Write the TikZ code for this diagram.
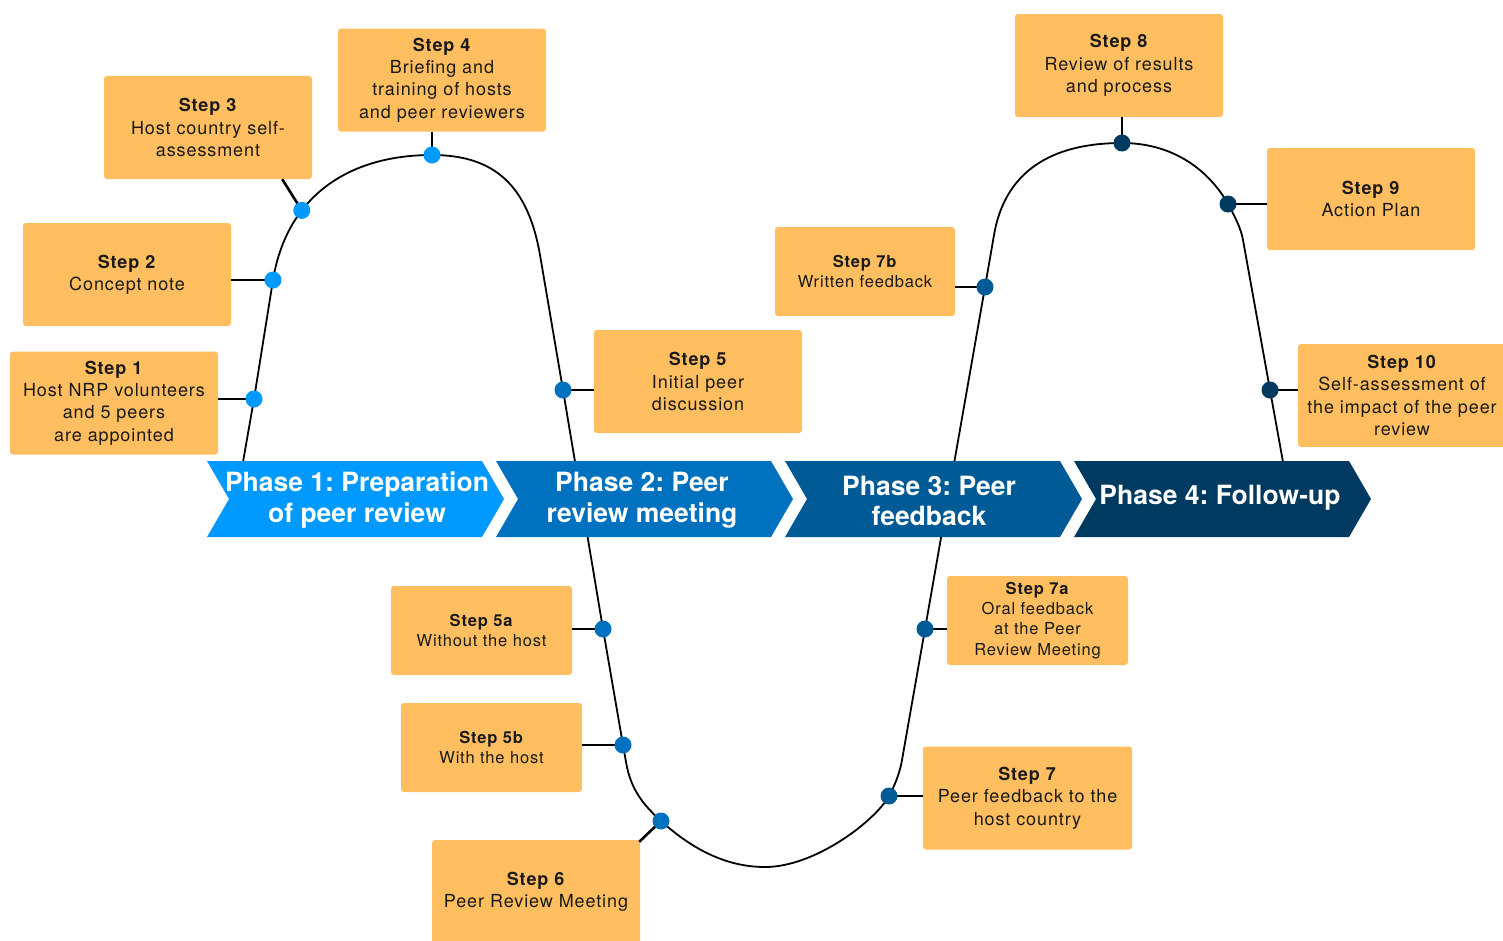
\documentclass[tikz,border=0pt]{standalone}
\usepackage{fontspec}
\setmainfont{TeX Gyre Heros}
\newfontfamily\boxfont[LetterSpace=5]{TeX Gyre Heros}
\usepackage{xcolor}
\usepackage{tikz}
\usetikzlibrary{arrows.meta}
\frenchspacing

\definecolor{boxfill}{HTML}{FFBE5F}
\definecolor{boxtext}{HTML}{1A1A1A}
\definecolor{phaseA}{HTML}{0099FF}
\definecolor{phaseB}{HTML}{0071BF}
\definecolor{phaseC}{HTML}{005A96}
\definecolor{phaseD}{HTML}{003A60}

\tikzset{
    stepbox/.style={fill=boxfill, rounded corners=3pt, inner sep=0pt,
        minimum width=208pt, minimum height=103pt, align=center, text=boxtext,
        font=\boxfont\fontsize{18}{22.4}\selectfont},
    smallbox/.style={stepbox, minimum width=181pt, minimum height=89pt,
        font=\boxfont\fontsize{16.5}{20.3}\selectfont},
    dot/.style={circle, inner sep=0pt, minimum size=17pt},
    link/.style={line width=2.6pt},
    phase/.style={text=white, align=center, font=\bfseries\fontsize{26.5}{30.5}\selectfont}
}

\begin{document}
\begin{tikzpicture}[x=1pt, y=-1pt]
        \useasboundingbox (0,0) rectangle (1503,940);

        % Wave through the steps.
        \draw[line width=1.8pt]
            (243,462) -- (254,399) coordinate (c1) -- (273,280) coordinate (c2)
            .. controls (287,195) and (350,155) .. coordinate[pos=0.33] (c3) (432,155) coordinate (c4)
            .. controls (495,155) and (528,186) .. (540,255)
            -- (563,390) coordinate (c5) -- (603,629) coordinate (c5a) -- (623,745) coordinate (c5b)
            -- (626,762) .. controls (631,792) and (646,807) .. (661,821) coordinate (c6)
            .. controls (691,848) and (725,867) .. (765,867)
            .. controls (815,867) and (875,821) .. (889,796) coordinate (c7)
            .. controls (895,785) and (900,772) .. (902,760)
            -- (925,629) coordinate (c7a) -- (985,287) coordinate (c7b) -- (994,235)
            .. controls (1006,165) and (1060,143) .. (1122,143) coordinate (c8)
            .. controls (1175,143) and (1210,172) .. (1228,204) coordinate (c9)
            .. controls (1234,215) and (1241,228) .. (1243,240)
            -- (1270,390) coordinate (c10) -- (1283,462);

        % Phase arrows.
        \foreach \i/\col in {0/phaseA, 1/phaseB, 2/phaseC, 3/phaseD}
            \fill[\col] ({207+289*\i},461) -- ({482+289*\i},461) -- ({504+289*\i},499)
                -- ({482+289*\i},537) -- ({207+289*\i},537) -- ({229+289*\i},499) -- cycle;
        \draw (357,500) node[phase, anchor=center] (p1) {Phase 1: Preparation\\of peer review};
        \draw (642,500) node[phase, anchor=center] (p2) {Phase 2: Peer\\review meeting};
        \draw (929,501) node[phase, anchor=center] (p3) {Phase 3: Peer\\feedback};
        \draw (1220,498) node[phase, anchor=center] (p4) {Phase 4: Follow-up};

        % Phase 1 steps.
        \draw (114,403) node[stepbox, anchor=center] (s1) {\textbf{Step 1}\\Host NRP volunteers\\and 5 peers\\are appointed};
        \draw (127,274.5) node[stepbox, anchor=center] (s2) {\textbf{Step 2}\\Concept note};
        \draw (208,127.5) node[stepbox, anchor=center] (s3) {\textbf{Step 3}\\Host country self-\\assessment};
        \draw (442,80) node[stepbox, anchor=center] (s4) {\textbf{Step 4}\\Briefing and\\training of hosts\\and peer reviewers};
        \draw[link] (s1.east |- c1) -- (c1);
        \draw[link] (s2.east |- c2) -- (c2);
        \draw[link] ([xshift=-30pt]s3.south east) -- (c3);
        \draw[link] (s4.south -| c4) -- (c4);
        \draw (c1) node[dot, fill=phaseA] (d1) {};
        \draw (c2) node[dot, fill=phaseA] (d2) {};
        \draw (c3) node[dot, fill=phaseA] (d3) {};
        \draw (c4) node[dot, fill=phaseA] (d4) {};

        % Phase 2 steps.
        \draw (698,381.5) node[stepbox, anchor=center] (s5) {\textbf{Step 5}\\Initial peer\\discussion};
        \draw (481.5,630.5) node[smallbox, anchor=center] (s5a) {\textbf{Step 5a}\\Without the host};
        \draw (491.5,747.5) node[smallbox, anchor=center] (s5b) {\textbf{Step 5b}\\With the host};
        \draw (536,892) node[stepbox, anchor=center, minimum height=104pt] (s6) {\textbf{Step 6}\\Peer Review Meeting};
        \draw[link] (s5.west |- c5) -- (c5);
        \draw[link] (s5a.east |- c5a) -- (c5a);
        \draw[link] (s5b.east |- c5b) -- (c5b);
        \draw[link] ([xshift=-1pt, yshift=-2pt]s6.north east) -- (c6);
        \draw (c5) node[dot, fill=phaseB] (d5) {};
        \draw (c5a) node[dot, fill=phaseB] (d5a) {};
        \draw (c5b) node[dot, fill=phaseB] (d5b) {};
        \draw (c6) node[dot, fill=phaseB] (d6) {};

        % Phase 3 steps.
        \draw (1027.5,798) node[stepbox, anchor=center, minimum width=209pt] (s7) {\textbf{Step 7}\\Peer feedback to the\\host country};
        \draw (1037.5,620.5) node[smallbox, anchor=center] (s7a) {\textbf{Step 7a}\\Oral feedback\\at the Peer\\Review Meeting};
        \draw (865,271.5) node[smallbox, anchor=center, minimum width=180pt] (s7b) {\textbf{Step 7b}\\Written feedback};
        \draw[link] (s7.west |- c7) -- (c7);
        \draw[link] (s7a.west |- c7a) -- (c7a);
        \draw[link] (s7b.east |- c7b) -- (c7b);
        \draw (c7) node[dot, fill=phaseC] (d7) {};
        \draw (c7a) node[dot, fill=phaseC] (d7a) {};
        \draw (c7b) node[dot, fill=phaseC] (d7b) {};

        % Phase 4 steps.
        \draw (1119,65.5) node[stepbox, anchor=center] (s8) {\textbf{Step 8}\\Review of results\\and process};
        \draw (1371,199) node[stepbox, anchor=center, minimum height=102pt] (s9) {\textbf{Step 9}\\Action Plan};
        \draw (1402,395.5) node[stepbox, anchor=center] (s10) {\textbf{Step 10}\\Self-assessment of\\the impact of the peer\\review};
        \draw[link] (s8.south -| c8) -- (c8);
        \draw[link] (s9.west |- c9) -- (c9);
        \draw[link] (s10.west |- c10) -- (c10);
        \draw (c8) node[dot, fill=phaseD] (d8) {};
        \draw (c9) node[dot, fill=phaseD] (d9) {};
        \draw (c10) node[dot, fill=phaseD] (d10) {};
    \end{tikzpicture}
\end{document}
